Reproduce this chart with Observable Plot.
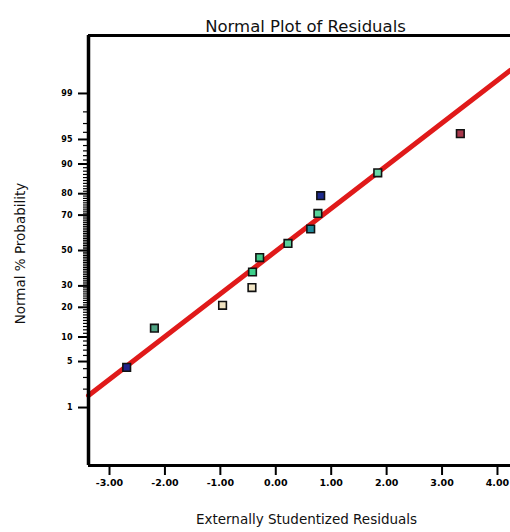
<!DOCTYPE html>
<html>
<head>
<meta charset="utf-8">
<script src="https://cdn.jsdelivr.net/npm/d3@7"></script>
<script src="https://cdn.jsdelivr.net/npm/@observablehq/plot@0.6"></script>
<style>
  html, body { margin: 0; padding: 0; background: #fff; }
</style>
</head>
<body>
<div id="chart"></div>
<script>
// ---- data ----
const residuals = [-2.69, -2.19, -0.96, -0.43, -0.42, -0.29, 0.22, 0.63, 0.76, 0.81, 1.84, 3.33];
const probability = [4.17, 12.5, 20.83, 29.17, 37.5, 45.83, 54.17, 62.5, 70.83, 79.17, 87.5, 95.83];
const pointColors = ["#22228a", "#4fa383", "#efe2c0", "#f2e6c6", "#3ccf8a", "#44c98a", "#5cd09a", "#1f8a9a", "#56d49a", "#1e2a8c", "#6ad8a8", "#a8384c"];
const lineX = [-3.379, 4.235];
const lineP = [1.585, 99.62];
const xTicks = [-3, -2, -1, 0, 1, 2, 3, 4];
const yTickLabels = [1, 5, 10, 20, 30, 50, 70, 80, 90, 95, 99];
const yMinorTicks = d3.range(1, 100).filter(v => !yTickLabels.includes(v));

// inverse normal CDF (Acklam)
function probit(p) {
  const a = [-3.969683028665376e+01, 2.209460984245205e+02, -2.759285104469687e+02, 1.383577518672690e+02, -3.066479806614716e+01, 2.506628277459239e+00];
  const b = [-5.447609879822406e+01, 1.615858368580409e+02, -1.556989798598866e+02, 6.680131188771972e+01, -1.328068155288572e+01];
  const c = [-7.784894002430293e-03, -3.223964580411365e-01, -2.400758277161838e+00, -2.549732539343734e+00, 4.374664141464968e+00, 2.938163982698783e+00];
  const d = [7.784695709041462e-03, 3.224671290700398e-01, 2.445134137142996e+00, 3.754408661907416e+00];
  const pl = 0.02425, ph = 1 - pl;
  let q, r;
  if (p < pl) {
    q = Math.sqrt(-2 * Math.log(p));
    return (((((c[0]*q+c[1])*q+c[2])*q+c[3])*q+c[4])*q+c[5]) / ((((d[0]*q+d[1])*q+d[2])*q+d[3])*q+1);
  }
  if (p <= ph) {
    q = p - 0.5; r = q * q;
    return (((((a[0]*r+a[1])*r+a[2])*r+a[3])*r+a[4])*r+a[5])*q / (((((b[0]*r+b[1])*r+b[2])*r+b[3])*r+b[4])*r+1);
  }
  q = Math.sqrt(-2 * Math.log(1 - p));
  return -(((((c[0]*q+c[1])*q+c[2])*q+c[3])*q+c[4])*q+c[5]) / ((((d[0]*q+d[1])*q+d[2])*q+d[3])*q+1);
}
const z = pct => probit(pct / 100);

const points = residuals.map((r, i) => ({x: r, z: z(probability[i]), color: pointColors[i]}));
const fit = lineX.map((x, i) => ({x, z: z(lineP[i])}));
const yMajorZ = yTickLabels.map(z);
const labelOf = new Map(yMajorZ.map((v, i) => [v, String(yTickLabels[i])]));

const xMin = -3.379, xMax = 4.235, zMax = 3.185;

const chart = Plot.plot({
  width: 510,
  height: 532,
  marginLeft: 88,
  marginRight: 0,
  marginTop: 35,
  marginBottom: 67,
  style: {fontFamily: "DejaVu Sans", background: "#fff", color: "#000"},
  x: {domain: [xMin, xMax]},
  y: {domain: [-zMax, zMax]},
  marks: [
    Plot.line(fit, {x: "x", y: "z", stroke: "#e01a1a", strokeWidth: 5}),
    Plot.dot(points, {x: "x", y: "z", symbol: "square", r: 4.3, fill: "color", stroke: "#111", strokeWidth: 1.6}),
    Plot.ruleX([xMin], {stroke: "#000", strokeWidth: 3.5}),
    Plot.ruleY([-zMax, zMax], {stroke: "#000", strokeWidth: 3}),
    Plot.axisX(xTicks, {tickSize: 10, tickPadding: 4, strokeWidth: 2, fontSize: 9.5, fontWeight: "bold", tickFormat: d => d.toFixed(2), label: null}),
    Plot.axisY(yMinorTicks.map(z), {tickSize: 5, strokeWidth: 1.2, tickFormat: () => "", label: null}),
    Plot.axisY(yMajorZ, {tickSize: 10, tickPadding: 6, strokeWidth: 2, fontSize: 8, fontWeight: "bold", tickFormat: v => labelOf.get(v), label: null}),
    Plot.text(["Normal Plot of Residuals"], {frameAnchor: "top", textAnchor: "middle", dx: 6, dy: -15, fontSize: 16.5, fill: "#111"}),
    Plot.text(["Externally Studentized Residuals"], {frameAnchor: "bottom", textAnchor: "middle", dx: 7, dy: 58, fontSize: 13.5, fill: "#111"}),
    Plot.text(["Normal % Probability"], {frameAnchor: "left", textAnchor: "middle", dx: -68, dy: 3, rotate: -90, fontSize: 13.5, fill: "#111"})
  ]
});
document.getElementById("chart").appendChild(chart);
</script>
</body>
</html>
